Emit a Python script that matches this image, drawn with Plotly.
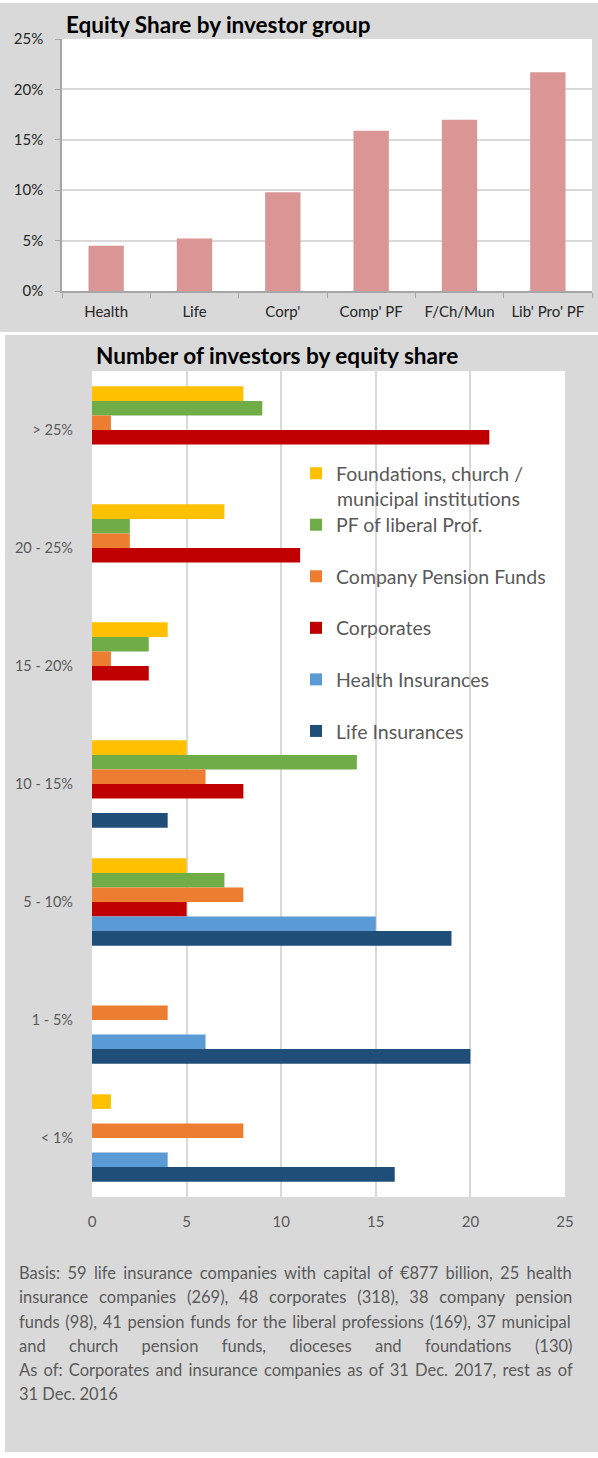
import plotly.graph_objects as go

# ---------------- data ----------------
groups = ["Health", "Life", "Corp'", "Comp' PF", "F/Ch/Mun", "Lib' Pro' PF"]
equity_share = [0.045, 0.052, 0.098, 0.159, 0.170, 0.217]

share_bands = ["> 25%", "20 - 25%", "15 - 20%", "10 - 15%", "5 - 10%", "1 - 5%", "< 1%"]
foundations = [8, 7, 4, 5, 5, 0, 1]
pf_liberal = [9, 2, 3, 14, 7, 0, 0]
company_pf = [1, 2, 1, 6, 8, 4, 8]
corporates = [21, 11, 3, 8, 5, 0, 0]
health_ins = [0, 0, 0, 0, 15, 6, 4]
life_ins = [0, 0, 0, 4, 19, 20, 16]

series_names = ["Foundations, church /", "PF of liberal Prof.",
                "Company Pension Funds", "Corporates", "Health Insurances", "Life Insurances"]
first_name_cont = "municipal institutions"
series_values = [foundations, pf_liberal, company_pf, corporates, health_ins, life_ins]
series_colors = ["#FFC000", "#70AD47", "#ED7D31", "#C00000", "#5B9BD5", "#1F4E79"]

footnote_lines = [
    "Basis: 59 life insurance companies with capital of €877 billion, 25 health",
    "insurance companies (269), 48 corporates (318), 38 company pension",
    "funds (98), 41 pension funds for the liberal professions (169), 37 municipal",
    "and church pension funds, dioceses and foundations (130)",
    "As of: Corporates and insurance companies as of 31 Dec. 2017, rest as of",
    "31 Dec. 2016",
]

# ---------------- layout helpers ----------------
W, H = 598, 1458
FONT = "Lato"
GRAY = "#D9D9D9"


def px_x(x):
    return x / W


def px_y(y):
    return 1 - y / H


fig = go.Figure()

# Top chart
fig.add_trace(go.Bar(
    x=groups, y=equity_share, width=0.4,
    marker=dict(color="#DA9694", line=dict(width=0)),
    xaxis="x", yaxis="y", showlegend=False,
))

# Bottom chart
for i, (name, vals, col) in enumerate(zip(series_names, series_values, series_colors)):
    fig.add_trace(go.Bar(
        y=share_bands, x=vals, orientation="h", name=name,
        marker=dict(color=col, line=dict(width=0)),
        xaxis="x2", yaxis="y2", legendgroup="g%d" % i,
    ))

shapes = [
    # grey panels
    dict(type="rect", xref="paper", yref="paper", x0=px_x(0), x1=px_x(598), y0=px_y(332), y1=px_y(3),
         fillcolor=GRAY, line=dict(width=0), layer="below"),
    dict(type="rect", xref="paper", yref="paper", x0=px_x(5), x1=px_x(598), y0=px_y(1452), y1=px_y(335),
         fillcolor=GRAY, line=dict(width=0), layer="below"),
    # white plot areas
    dict(type="rect", xref="paper", yref="paper", x0=px_x(62), x1=px_x(592), y0=px_y(291), y1=px_y(39),
         fillcolor="white", line=dict(width=0), layer="below"),
    dict(type="rect", xref="paper", yref="paper", x0=px_x(92), x1=px_x(565), y0=px_y(1197), y1=px_y(371),
         fillcolor="white", line=dict(width=0), layer="below"),
]

annotations = [
    dict(text="<b>Equity Share by investor group</b>", xref="paper", yref="paper",
         x=px_x(64), y=px_y(24), xanchor="left", yanchor="middle", showarrow=False,
         font=dict(family=FONT, size=22.5, color="#000000")),
    dict(text="<b>Number of investors by equity share</b>", xref="paper", yref="paper",
         x=px_x(94), y=px_y(355), xanchor="left", yanchor="middle", showarrow=False,
         font=dict(family=FONT, size=22.6, color="#000000")),
    # continuation line of the first legend entry
    dict(text=first_name_cont, xref="paper", yref="paper",
         x=px_x(335), y=px_y(498), xanchor="left", yanchor="middle", showarrow=False,
         font=dict(family=FONT, size=19.5, color="#595959")),
]

# footnote, approximately justified through extra word spacing per line
line_y = [1273, 1297, 1322, 1346, 1370, 1394]
word_gap = [3.1, 6.6, 1.5, 19.2, 2.0, 0]
for txt, ly, ws in zip(footnote_lines, line_y, word_gap):
    annotations.append(dict(text='<span style="word-spacing:%.1fpx">%s</span>' % (ws, txt),
                            xref="paper", yref="paper", x=px_x(17), y=px_y(ly),
                            xanchor="left", yanchor="middle", showarrow=False,
                            font=dict(family=FONT, size=16.5, color="#595959")))

fig.update_layout(
    width=W, height=H, margin=dict(l=0, r=0, t=0, b=0, pad=0, autoexpand=False),
    paper_bgcolor="white", plot_bgcolor="rgba(0,0,0,0)",
    font=dict(family=FONT, color="#404040"),
    barmode="group", bargap=0.26, bargroupgap=0,
    shapes=shapes, annotations=annotations,
    xaxis=dict(domain=[px_x(62), px_x(592)], anchor="y", type="category", automargin=False,
               showline=True, linecolor="#A6A6A6", linewidth=1.5, tickangle=0,
               ticks="outside", ticklen=5, tickcolor="#A6A6A6", tickson="boundaries",
               showgrid=False, tickfont=dict(family=FONT, size=15, color="#262626"),
               ticklabelstandoff=6),
    yaxis=dict(domain=[px_y(291), px_y(39)], anchor="x", range=[0, 0.25], dtick=0.05, automargin=False,
               tickformat=".0%", showline=True, linecolor="#A6A6A6", linewidth=1.5,
               ticks="outside", ticklen=5, tickcolor="#A6A6A6",
               showgrid=True, gridcolor=GRAY, gridwidth=1.5, zeroline=False,
               tickfont=dict(family=FONT, size=15, color="#262626"), ticklabelstandoff=9),
    xaxis2=dict(domain=[px_x(92), px_x(565)], anchor="y2", range=[0, 25], dtick=5, automargin=False,
                showline=False, showgrid=True, gridcolor=GRAY, gridwidth=2, zeroline=False,
                ticks="", tickfont=dict(family=FONT, size=15, color="#595959"),
                ticklabelstandoff=14),
    yaxis2=dict(domain=[px_y(1197), px_y(371)], anchor="x2", type="category", automargin=False,
                categoryorder="array", categoryarray=share_bands, autorange="reversed",
                showline=False, showgrid=False, zeroline=False, ticks="",
                tickfont=dict(family=FONT, size=14.5, color="#595959"), ticklabelstandoff=18),
    legend=dict(x=px_x(296), y=px_y(454), xanchor="left", yanchor="top",
                bgcolor="rgba(0,0,0,0)", font=dict(family=FONT, size=19.5, color="#595959"),
                tracegroupgap=23.2, valign="top", traceorder="grouped"),
)

fig.write_html("out.html")
